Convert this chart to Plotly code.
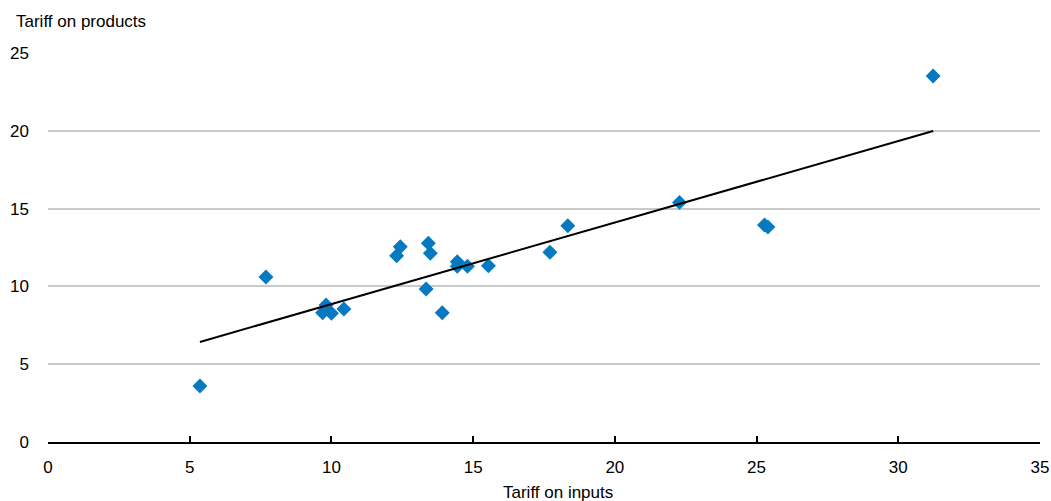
import plotly.graph_objects as go

# Data
tariff_inputs = [5.36, 7.69, 9.81, 9.69, 10.0, 10.44, 12.3, 12.43, 13.42, 13.49,
                 13.34, 13.91, 14.44, 14.44, 14.8, 15.54, 17.71, 18.34, 22.28,
                 25.28, 25.40, 31.23]
tariff_products = [3.6, 10.6, 8.8, 8.3, 8.27, 8.55, 11.97, 12.55, 12.77, 12.13,
                   9.83, 8.31, 11.59, 11.3, 11.3, 11.33, 12.19, 13.9, 15.4,
                   13.95, 13.82, 23.52]
trend_x = [5.36, 31.23]
trend_y = [6.43, 19.99]

x_ticks = [0, 5, 10, 15, 20, 25, 30, 35]
y_ticks = [0, 5, 10, 15, 20, 25]

FONT = "Liberation Sans, Arial, sans-serif"
BLUE = "#0679c0"

fig = go.Figure()
fig.add_trace(go.Scatter(
    x=tariff_inputs, y=tariff_products, mode="markers",
    marker=dict(symbol="diamond", size=11.5, color=BLUE, line=dict(width=0)),
    showlegend=False, hoverinfo="x+y",
))
fig.add_trace(go.Scatter(
    x=trend_x, y=trend_y, mode="lines",
    line=dict(color="black", width=2), showlegend=False, hoverinfo="skip",
))

PW, PH = 992, 389
fig.update_layout(
    width=1051, height=501,
    margin=dict(l=48, r=11, t=53, b=59, autoexpand=False),
    paper_bgcolor="white", plot_bgcolor="white",
    font=dict(family=FONT, size=17, color="#000000"),
    xaxis=dict(
        range=[0, 35], tickvals=x_ticks, ticktext=[str(v) for v in x_ticks],
        showgrid=False, zeroline=False,
        showline=True, linecolor="black", linewidth=2,
        ticks="inside", ticklen=6, tickwidth=1.5, tickcolor="black",
        ticklabelstandoff=9, automargin=False,
        fixedrange=True,
    ),
    yaxis=dict(
        range=[0, 25], tickvals=y_ticks, ticktext=[str(v) for v in y_ticks],
        showgrid=True, gridcolor="#c9c9c9", gridwidth=1.5,
        zeroline=False, showline=False, ticks="",
        ticklabelstandoff=18, automargin=False,
        fixedrange=True,
    ),
    annotations=[
        dict(
            text="Tariff on products", xref="paper", yref="paper",
            x=(14 - 48) / PW, y=1 + (53 - 21) / PH,
            xanchor="left", yanchor="middle", showarrow=False,
            font=dict(family=FONT, size=17, color="#000000"),
        ),
        dict(
            text="Tariff on inputs", xref="paper", yref="paper",
            x=(558 - 48) / PW, y=-(492 - 442) / PH,
            xanchor="center", yanchor="middle", showarrow=False,
            font=dict(family=FONT, size=17, color="#000000"),
        ),
    ],
)

fig.write_html("out.html")
